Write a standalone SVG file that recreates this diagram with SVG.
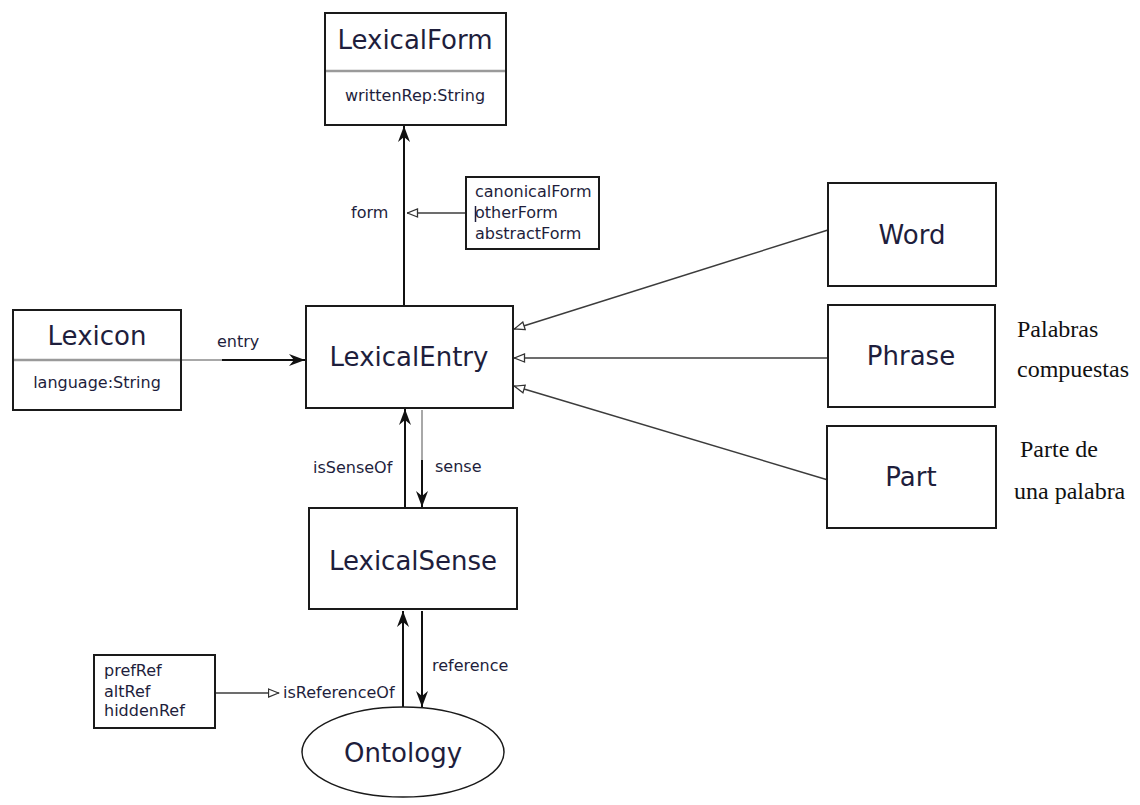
<svg xmlns="http://www.w3.org/2000/svg" width="1140" height="805" viewBox="0 0 1140 805">
  <style>
    .box { fill: #ffffff; stroke: #1a1a1a; stroke-width: 2; }
    .title { font-family: "DejaVu Sans", sans-serif; font-size: 26px; fill: #1e1e3c; text-anchor: middle; }
    .attr { font-family: "DejaVu Sans", sans-serif; font-size: 16px; fill: #1e1e3c; }
    .lbl { font-family: "DejaVu Sans", sans-serif; font-size: 16px; fill: #1e1e3c; }
    .note { font-family: "Liberation Serif", serif; font-size: 24px; fill: #111111; }
    .divider { stroke: #9a9a9a; stroke-width: 2.5; }
    .assoc { stroke: #111111; stroke-width: 2; fill: none; }
    .assoc-faint { stroke: #a8a8a8; stroke-width: 2; fill: none; }
    .sub { stroke: #3c3c3c; stroke-width: 1.5; fill: none; }
  </style>
  <defs>
    <marker id="arrow" viewBox="0 0 16 12" refX="16" refY="6" markerWidth="16" markerHeight="12" markerUnits="userSpaceOnUse" orient="auto">
      <path d="M0,0 L16,6 L0,12 L5,6 z" fill="#111111"/>
    </marker>
    <marker id="open" viewBox="0 0 12 10" refX="11.5" refY="5" markerWidth="12" markerHeight="10" markerUnits="userSpaceOnUse" orient="auto">
      <path d="M1,1 L11,5 L1,9 z" fill="#ffffff" stroke="#333333" stroke-width="1.3"/>
    </marker>
  </defs>
  <rect width="1140" height="805" fill="#ffffff"/>

  <!-- connectors -->
  <g id="connectors">
    <!-- form -->
    <line class="assoc" x1="404" y1="306" x2="404" y2="126" marker-end="url(#arrow)"/>
    <line class="sub" x1="466" y1="213" x2="407" y2="213" marker-end="url(#open)"/>
    <text class="lbl" x="351" y="218">form</text>
    <!-- entry -->
    <line class="assoc-faint" x1="181" y1="360" x2="222" y2="360"/>
    <line class="assoc" x1="222" y1="360" x2="305" y2="360" marker-end="url(#arrow)"/>
    <text class="lbl" x="217" y="347">entry</text>
    <!-- subclasses -->
    <line class="sub" x1="828" y1="230" x2="514" y2="329" marker-end="url(#open)"/>
    <line class="sub" x1="828" y1="358" x2="514" y2="358" marker-end="url(#open)"/>
    <line class="sub" x1="828" y1="480" x2="514" y2="386" marker-end="url(#open)"/>
    <!-- sense / isSenseOf -->
    <line class="assoc" x1="405" y1="508" x2="405" y2="409" marker-end="url(#arrow)"/>
    <line class="assoc-faint" x1="422" y1="410" x2="422" y2="460"/>
    <line class="assoc" x1="422" y1="460" x2="422" y2="507" marker-end="url(#arrow)"/>
    <text class="lbl" x="313" y="473">isSenseOf</text>
    <text class="lbl" x="435" y="472">sense</text>
    <!-- reference / isReferenceOf -->
    <line class="assoc" x1="403" y1="707" x2="403" y2="611" marker-end="url(#arrow)"/>
    <line class="assoc" x1="422" y1="611" x2="422" y2="707" marker-end="url(#arrow)"/>
    <text class="lbl" x="432" y="671">reference</text>
    <line class="sub" x1="215" y1="693" x2="279" y2="693" marker-end="url(#open)"/>
    <text class="lbl" x="283" y="698">isReferenceOf</text>
  </g>

  <!-- nodes -->
  <g id="LexicalForm">
    <rect class="box" x="325" y="13" width="181" height="112"/>
    <line class="divider" x1="326" y1="71" x2="505" y2="71"/>
    <text class="title" x="415" y="49">LexicalForm</text>
    <text class="attr" x="415" y="101" text-anchor="middle">writtenRep:String</text>
  </g>

  <g id="FormProperties">
    <rect class="box" x="466" y="177" width="133" height="72" stroke-width="1.6"/>
    <text class="attr" x="475" y="197">canonicalForm</text>
    <line x1="475.5" y1="206" x2="475.5" y2="222" stroke="#1e1e3c" stroke-width="1.5"/>
    <text class="attr" x="475" y="218">otherForm</text>
    <text class="attr" x="475" y="239">abstractForm</text>
  </g>

  <g id="Lexicon">
    <rect class="box" x="13" y="310" width="168" height="100"/>
    <line class="divider" x1="14" y1="360" x2="180" y2="360"/>
    <text class="title" x="97" y="345">Lexicon</text>
    <text class="attr" x="97" y="388" text-anchor="middle">language:String</text>
  </g>

  <g id="LexicalEntry">
    <rect class="box" x="306" y="306" width="207" height="102"/>
    <text class="title" x="409" y="366">LexicalEntry</text>
  </g>

  <g id="Word">
    <rect class="box" x="828" y="183" width="168" height="103"/>
    <text class="title" x="912" y="244">Word</text>
  </g>

  <g id="Phrase">
    <rect class="box" x="828" y="305" width="167" height="102"/>
    <text class="title" x="911" y="365">Phrase</text>
  </g>

  <g id="Part">
    <rect class="box" x="827" y="426" width="169" height="102"/>
    <text class="title" x="911" y="486">Part</text>
  </g>

  <g id="LexicalSense">
    <rect class="box" x="309" y="508" width="208" height="101"/>
    <text class="title" x="413" y="570">LexicalSense</text>
  </g>

  <g id="Ontology">
    <ellipse cx="403" cy="752" rx="101" ry="45" fill="#ffffff" stroke="#1a1a1a" stroke-width="1.5"/>
    <text class="title" x="403" y="762">Ontology</text>
  </g>

  <g id="ReferenceProperties">
    <rect class="box" x="94" y="655" width="121" height="73" stroke-width="1.6"/>
    <text class="attr" x="104" y="676">prefRef</text>
    <text class="attr" x="104" y="697">altRef</text>
    <text class="attr" x="104" y="716">hiddenRef</text>
  </g>

  <!-- annotations -->
  <g id="Notes">
    <text class="note" x="1017" y="337">Palabras</text>
    <text class="note" x="1017" y="377">compuestas</text>
    <text class="note" x="1020" y="457">Parte de</text>
    <text class="note" x="1014" y="499">una palabra</text>
  </g>
</svg>
